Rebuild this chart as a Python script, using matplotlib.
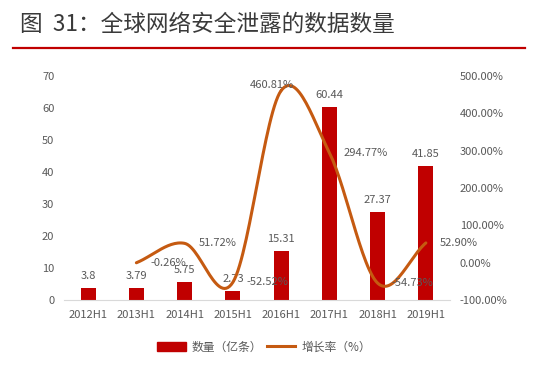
import numpy as np
import matplotlib
matplotlib.use("Agg")
import matplotlib.pyplot as plt
from matplotlib.patches import Patch
from matplotlib.lines import Line2D

plt.rcParams['font.family'] = ['Noto Sans CJK SC', 'DejaVu Sans']

categories = ["2012H1", "2013H1", "2014H1", "2015H1", "2016H1", "2017H1", "2018H1", "2019H1"]
volume = [3.8, 3.79, 5.75, 2.73, 15.31, 60.44, 27.37, 41.85]
growth_idx = [1, 2, 3, 4, 5, 6, 7]
growth = [-0.26, 51.72, -52.52, 460.81, 294.77, -54.73, 52.90]
growth_labels = ["-0.26%", "51.72%", "-52.52%", "460.81%", "294.77%", "-54.73%", "52.90%"]
left_ticks = [0, 10, 20, 30, 40, 50, 60, 70]
right_ticks = [-100, 0, 100, 200, 300, 400, 500]

BAR = "#c00000"
LINE = "#c55a11"
TXT = "#595959"

fig = plt.figure(figsize=(5.54, 3.73), dpi=100)
ax = fig.add_axes([64/554, 1-300/373, (450-64)/554, (300-76)/373])
x = np.arange(len(categories))
ax.bar(x, volume, width=0.31, color=BAR, zorder=2)
ax.set_xlim(-0.5, len(categories)-0.5)
ax.set_ylim(0, 70)
ax.set_yticks(left_ticks)
ax.set_xticks(x)
ax.set_xticklabels(categories)
for s in ["top", "right", "left"]:
    ax.spines[s].set_visible(False)
ax.spines["bottom"].set_color("#d9d9d9")
ax.tick_params(axis="both", length=0, colors=TXT, labelsize=8)
ax.tick_params(axis="x", pad=7)
ax.tick_params(axis="y", pad=7)
for xi, v in zip(x, volume):
    ax.annotate(f"{v:g}", (xi, v), xytext=(0, 5), textcoords="offset points",
                ha="center", va="bottom", fontsize=8, color=TXT)

ax2 = ax.twinx()
ax2.set_ylim(-100, 500)
ax2.set_yticks(right_ticks)
ax2.set_yticklabels([f"{t:.2f}%" for t in right_ticks])
for s in ax2.spines.values():
    s.set_visible(False)
ax2.tick_params(axis="y", length=0, colors=TXT, labelsize=8, pad=7)

# smoothed line (Catmull-Rom rendering of the data points)
px = np.array(growth_idx, dtype=float)
py = np.array(growth, dtype=float)
P = np.column_stack([px, py])
ext = np.vstack([P[0] - (P[1]-P[0]), P, P[-1] + (P[-1]-P[-2])])
cx, cy = [], []
t = np.linspace(0, 1, 30)
for i in range(1, len(ext)-2):
    p0, p1, p2, p3 = ext[i-1], ext[i], ext[i+1], ext[i+2]
    for tt in t:
        pt = 0.5*((2*p1) + (-p0+p2)*tt + (2*p0-5*p1+4*p2-p3)*tt**2 + (-p0+3*p1-3*p2+p3)*tt**3)
        cx.append(pt[0]); cy.append(pt[1])
ax2.plot(cx, cy, color=LINE, lw=2.2, zorder=3, solid_capstyle="round")

for xi, v, lab in zip(growth_idx, growth, growth_labels):
    if lab == "460.81%":
        ax2.annotate(lab, (xi, v), xytext=(-6.5, 4), textcoords="offset points",
                     ha="center", va="center", fontsize=8, color=TXT)
    else:
        ax2.annotate(lab, (xi, v), xytext=(10, 0), textcoords="offset points",
                     ha="left", va="center", fontsize=8, color=TXT)

# Title and red rule
fig.text(20/554, 1-24/373, "图  31：全球网络安全泄露的数据数量", fontsize=16.3, color="#3a3a3a",
         ha="left", va="center")
fig.add_artist(Line2D([13/554, 525/554], [1-47.7/373, 1-47.7/373], color="#c00000", lw=1.6))

handles = [Patch(facecolor=BAR, edgecolor=BAR), Line2D([0], [0], color=LINE, lw=2.2)]
fig.legend(handles, ["数量（亿条）", "增长率（%）"], loc="center", bbox_to_anchor=(264/554, 1-347/373),
           ncol=2, frameon=False, fontsize=8.5, labelcolor=TXT, handlelength=2.4, columnspacing=0.4,
           handletextpad=0.5)

fig.savefig("out.png", dpi=100, facecolor="white")
